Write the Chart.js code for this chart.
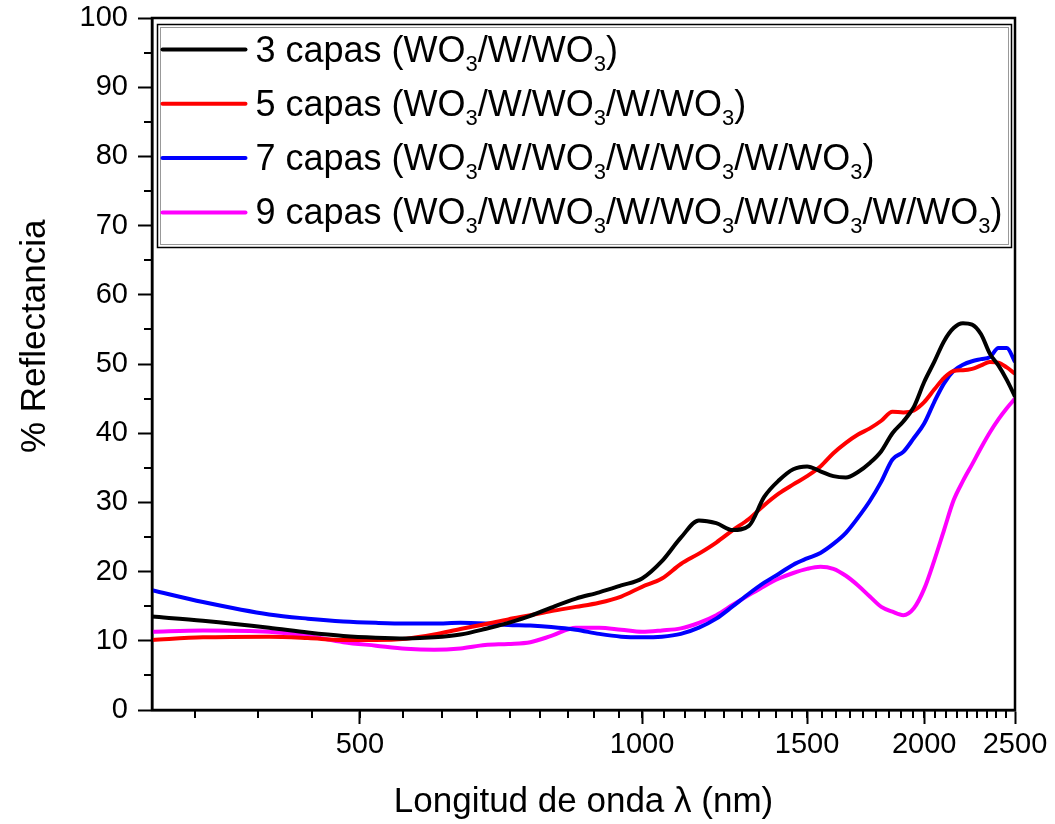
<!DOCTYPE html>
<html>
<head>
<meta charset="utf-8">
<script src="https://cdn.jsdelivr.net/npm/chart.js@4.4.0/dist/chart.umd.min.js"></script>
<style>
  body { margin: 0; background: #fff; }
  #wrap { width: 1055px; height: 824px; }
</style>
</head>
<body>
<div id="wrap"><canvas id="myChart"></canvas></div>
<script>
// wavelength (nm) and % reflectance
var wavelength = [300, 340, 400, 440, 480, 520, 560, 600, 640, 680, 720, 760, 800, 850, 900, 950,
  1000, 1050, 1100, 1150, 1200, 1250, 1300, 1350, 1400, 1450, 1500, 1550, 1600, 1650, 1700, 1750,
  1800, 1850, 1900, 1950, 2000, 2050, 2100, 2150, 2200, 2250, 2300, 2350, 2400, 2450, 2500];

var capas3 = [13.5, 12.9, 11.9, 11.2, 10.7, 10.45, 10.35, 10.5, 10.9, 11.7, 12.6, 13.6, 14.8, 16.1, 17.0, 18.0,
  19.0, 21.5, 24.9, 27.4, 27.0, 26.0, 26.6, 30.8, 33.2, 34.8, 35.2, 34.5, 33.8, 33.6, 34.4, 35.7,
  37.4, 40.0, 41.7, 43.8, 47.4, 50.3, 53.3, 55.2, 55.9, 55.7, 54.3, 51.5, 49.8, 47.7, 45.3];

var capas5 = [10.1, 10.5, 10.6, 10.4, 10.1, 10.1, 10.3, 10.9, 11.7, 12.4, 13.1, 13.7, 14.3, 14.9, 15.5, 16.4,
  17.8, 19.0, 21.1, 22.6, 24.2, 26.0, 27.6, 29.6, 31.3, 32.6, 33.8, 35.2, 37.1, 38.6, 39.8, 40.7,
  41.8, 43.1, 43.0, 43.3, 44.5, 46.3, 48.0, 49.0, 49.1, 49.3, 49.8, 50.3, 50.2, 49.5, 48.6];

var capas7 = [17.3, 15.6, 13.8, 13.2, 12.8, 12.6, 12.5, 12.5, 12.6, 12.5, 12.3, 12.2, 12.0, 11.6, 11.0, 10.6,
  10.5, 10.6, 11.0, 11.9, 13.2, 15.0, 16.8, 18.4, 19.7, 21.0, 21.9, 22.7, 24.0, 25.6, 27.8, 30.2,
  33.0, 36.2, 37.3, 39.3, 41.4, 44.5, 47.2, 49.0, 49.9, 50.4, 50.7, 51.0, 52.3, 52.3, 50.3];

var capas9 = [11.3, 11.5, 11.3, 10.7, 9.8, 9.3, 8.85, 8.7, 8.9, 9.4, 9.55, 9.8, 10.7, 11.9, 11.9, 11.6,
  11.3, 11.5, 11.8, 12.6, 13.7, 15.2, 16.6, 17.9, 19.0, 19.8, 20.4, 20.7, 20.4, 19.4, 18.0, 16.4,
  14.9, 14.2, 13.7, 14.7, 17.5, 21.6, 26.0, 30.3, 33.1, 35.5, 37.9, 40.1, 42.0, 43.6, 45.0];

var seriesLabels = [
  "3 capas (WO₃/W/WO₃)",
  "5 capas (WO₃/W/WO₃/W/WO₃)",
  "7 capas (WO₃/W/WO₃/W/WO₃/W/WO₃)",
  "9 capas (WO₃/W/WO₃/W/WO₃/W/WO₃/W/WO₃)"
];
var seriesColors = ["#000000", "#ff0000", "#0000ff", "#ff00ff"];
var seriesValues = [capas3, capas5, capas7, capas9];

var xTicks = [500, 1000, 1500, 2000, 2500];
var xMin = 300, xMax = 2500;
var yMin = 0, yMax = 100, yStep = 10;
var yTitle = '% Reflectancia';

var fontFamily = '"Liberation Sans", Arial, sans-serif';

function toPoints(values) {
  var pts = [];
  for (var i = 0; i < wavelength.length; i++) {
    pts.push({x: wavelength[i], y: values[i]});
  }
  return pts;
}

var datasets = [];
for (var s = 0; s < seriesValues.length; s++) {
  datasets.push({
    label: seriesLabels[s],
    data: toPoints(seriesValues[s]),
    borderColor: seriesColors[s],
    backgroundColor: seriesColors[s],
    borderWidth: 4,
    pointRadius: 0,
    cubicInterpolationMode: 'monotone',
    fill: false
  });
}

// label text with the ₃ drawn as a lowered, smaller 3
function drawLabel(ctx, text, x, y) {
  var parts = text.split('₃');
  for (var i = 0; i < parts.length; i++) {
    ctx.font = '36px ' + fontFamily;
    ctx.fillText(parts[i], x, y);
    x += ctx.measureText(parts[i]).width;
    if (i < parts.length - 1) {
      ctx.font = '22px ' + fontFamily;
      ctx.fillText('3', x, y + 9);
      x += ctx.measureText('3').width;
    }
  }
}

var framePlugin = {
  id: 'frame',
  afterDraw: function(chart) {
    var ctx = chart.ctx;
    var a = chart.chartArea;
    var xs = chart.scales.x, ys = chart.scales.y;
    ctx.save();

    // minor ticks: 8 between majors (Origin style), y every 5
    ctx.strokeStyle = '#000';
    ctx.lineWidth = 2;
    ctx.beginPath();
    var step = 500 / 9;
    for (var v = 500 - 3 * step; v < xMax - 1; v += step) {
      if (v < xMin) continue;
      var px = Math.round(xs.getPixelForValue(v));
      ctx.moveTo(px, a.bottom);
      ctx.lineTo(px, a.bottom + 8);
    }
    for (var yv = yMin + yStep / 2; yv < yMax; yv += yStep) {
      var py = Math.round(ys.getPixelForValue(yv));
      ctx.moveTo(a.left, py);
      ctx.lineTo(a.left - 8, py);
    }
    ctx.stroke();

    // box around plot
    ctx.lineWidth = 2.5;
    ctx.strokeRect(a.left, a.top, a.right - a.left, a.bottom - a.top);

    // y axis title
    ctx.save();
    ctx.translate(35, ys.getPixelForValue(54));
    ctx.rotate(-Math.PI / 2);
    ctx.fillStyle = '#000';
    ctx.font = '35px ' + fontFamily;
    ctx.textAlign = 'center';
    ctx.textBaseline = 'middle';
    ctx.fillText(yTitle, 0, 0);
    ctx.restore();

    // legend
    var lx = a.left + 5.5, ly = a.top + 6.5, lw = 854, lh = 223;
    ctx.fillStyle = '#fff';
    ctx.fillRect(lx, ly, lw, lh);
    ctx.strokeStyle = '#000';
    ctx.lineWidth = 1.5;
    ctx.strokeRect(lx, ly, lw, lh);
    ctx.strokeStyle = '#999';
    ctx.lineWidth = 1;
    ctx.strokeRect(lx + 3, ly + 3, lw - 6, lh - 6);

    ctx.textBaseline = 'alphabetic';
    ctx.textAlign = 'left';
    for (var i = 0; i < chart.data.datasets.length; i++) {
      var ds = chart.data.datasets[i];
      var cy = ly + 25 + i * 54.3;
      ctx.strokeStyle = ds.borderColor;
      ctx.lineWidth = 4;
      ctx.lineCap = 'round';
      ctx.beginPath();
      ctx.moveTo(lx + 5, cy);
      ctx.lineTo(lx + 88, cy);
      ctx.stroke();
      ctx.fillStyle = '#000';
      drawLabel(ctx, ds.label, lx + 98, cy + 12);
    }
    ctx.restore();
  }
};

var ctx = document.getElementById('myChart');
var chart = new Chart(ctx, {
  type: 'line',
  data: { datasets: datasets },
  options: {
    responsive: true,
    maintainAspectRatio: false,
    animation: false,
    layout: { padding: { top: 18, right: 40, left: 0, bottom: 0 } },
    plugins: {
      legend: { display: false },
      tooltip: { enabled: false }
    },
    scales: {
      x: {
        type: 'logarithmic',
        min: xMin,
        max: xMax,
        afterBuildTicks: function(scale) {
          scale.ticks = xTicks.map(function(v) { return {value: v}; });
        },
        afterFit: function(scale) {
          scale.height = 114;
          scale.paddingLeft = 0;
          scale.paddingRight = 0;
        },
        ticks: {
          autoSkip: false,
          maxRotation: 0,
          padding: 4,
          color: '#000',
          font: { family: fontFamily, size: 29 },
          callback: function(value) { return String(value); }
        },
        grid: { drawOnChartArea: false, drawTicks: true, tickLength: 14, tickWidth: 2, tickColor: '#000' },
        border: { display: true, color: '#000', width: 2.5 },
        title: {
          display: true,
          text: 'Longitud de onda λ (nm)',
          color: '#000',
          font: { family: fontFamily, size: 35 },
          padding: { top: 0, bottom: 1 }
        }
      },
      y: {
        min: yMin,
        max: yMax,
        afterFit: function(scale) {
          scale.width = 152;
          scale.paddingTop = 0;
          scale.paddingBottom = 0;
        },
        ticks: {
          stepSize: yStep,
          padding: 10,
          color: '#000',
          font: { family: fontFamily, size: 29 }
        },
        grid: { drawOnChartArea: false, drawTicks: true, tickLength: 14, tickWidth: 2, tickColor: '#000' },
        border: { display: true, color: '#000', width: 2.5 }
      }
    }
  },
  plugins: [framePlugin]
});
</script>
</body>
</html>
